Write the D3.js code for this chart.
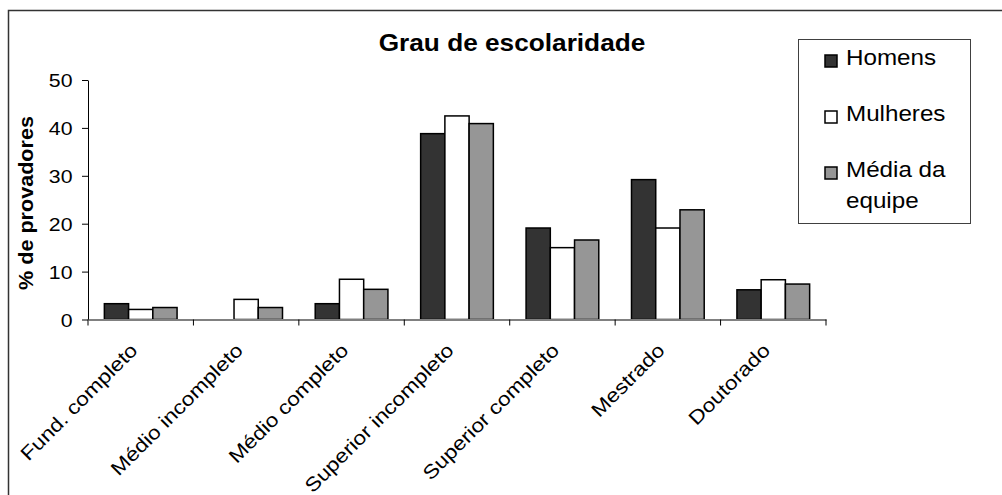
<!DOCTYPE html>
<html>
<head>
<meta charset="utf-8">
<script src="https://cdn.jsdelivr.net/npm/d3@7"></script>
<style>
  html, body { margin: 0; padding: 0; background: #fff; }
  svg { display: block; font-family: "Liberation Sans", Arial, sans-serif; }
</style>
</head>
<body>
<svg id="chart" width="1002" height="495"></svg>
<script>
// Education level of panel members (% of tasters), by group
const categories = ["Fund. completo", "Médio incompleto", "Médio completo", "Superior incompleto", "Superior completo", "Mestrado", "Doutorado"];
const seriesNames = ["Homens", "Mulheres", "Média da equipe"];
const homens   = [3.3, 0, 3.3, 38.8, 19.1, 29.2, 6.2];
const mulheres = [2.1, 4.2, 8.4, 42.5, 15.0, 19.1, 8.3];
const media    = [2.5, 2.5, 6.3, 40.9, 16.6, 22.9, 7.4];
const yTicks   = [0, 10, 20, 30, 40, 50];
const legendLines = [["Homens"], ["Mulheres"], ["Média da", "equipe"]];

const seriesValues = [homens, mulheres, media];
const fills = ["#333333", "#ffffff", "#969696"];

const svg = d3.select("#chart");

// outer frame
svg.append("rect")
  .attr("x", 8.5).attr("y", 10.5)
  .attr("width", 1100).attr("height", 600)
  .attr("fill", "none").attr("stroke", "#333").attr("stroke-width", 1.5);

const plot = { left: 88, right: 826, top: 80, bottom: 319.5 };

const x0 = d3.scaleBand().domain(categories)
  .range([plot.left, plot.right]).paddingInner(0).paddingOuter(0);
const x1 = d3.scaleBand().domain(seriesNames)
  .range([0, x0.bandwidth()]).paddingInner(0).paddingOuter(0.675);
const y = d3.scaleLinear().domain([0, 50]).range([plot.bottom, plot.top]);

// bars
const rows = categories.map((c, i) => seriesNames.map((s, k) => ({ cat: c, series: s, k, value: seriesValues[k][i] })));
svg.append("g").selectAll("g")
  .data(rows).join("g")
  .attr("transform", d => `translate(${x0(d[0].cat)},0)`)
  .selectAll("rect")
  .data(d => d.filter(v => v.value > 0)).join("rect")
  .attr("x", d => x1(d.series))
  .attr("y", d => y(d.value))
  .attr("width", x1.bandwidth())
  .attr("height", d => y(0) - y(d.value))
  .attr("fill", d => fills[d.k])
  .attr("stroke", "#000").attr("stroke-width", 1.5);

// y axis
const yAxis = svg.append("g")
  .attr("transform", `translate(${plot.left},0)`)
  .call(d3.axisLeft(y).tickValues(yTicks).tickSize(6).tickSizeOuter(0));
yAxis.select(".domain").attr("stroke", "#000").attr("stroke-width", 1);
yAxis.selectAll(".tick line").attr("stroke", "#000");
yAxis.selectAll(".tick text")
  .attr("font-size", 19).attr("fill", "#000")
  .attr("x", -15.5 / 1.12).attr("dy", "0.36em")
  .attr("transform", "scale(1.12,1)")
  .style("font-family", "'Liberation Sans', Arial, sans-serif");

// x axis: labels centred on categories, ticks on category boundaries
const xAxis = svg.append("g")
  .attr("transform", `translate(0,${plot.bottom})`)
  .call(d3.axisBottom(x0).tickSize(0).tickSizeOuter(0));
xAxis.select(".domain").attr("stroke", "#808080").attr("stroke-width", 2);
xAxis.selectAll(".tick text")
  .attr("font-size", 19.5).attr("fill", "#000")
  .attr("text-anchor", "end")
  .attr("y", 0).attr("dy", 0)
  .attr("transform", "translate(-2,32) rotate(-45) scale(1.16,1)")
  .style("font-family", "'Liberation Sans', Arial, sans-serif");
const bounds = categories.map(c => x0(c)).concat([x0.range()[1]]);
xAxis.append("g").selectAll("line")
  .data(bounds).join("line")
  .attr("x1", d => d).attr("x2", d => d)
  .attr("y1", 0).attr("y2", 6)
  .attr("stroke", "#000").attr("stroke-width", 1);

// title
svg.append("text")
  .attr("transform", "translate(512,51) scale(1.14,1)")
  .attr("text-anchor", "middle")
  .attr("font-size", 23).attr("font-weight", "bold")
  .text("Grau de escolaridade");

// y axis title
svg.append("text")
  .attr("transform", "translate(33,203) rotate(-90) scale(1.08,1)")
  .attr("text-anchor", "middle")
  .attr("font-size", 20).attr("font-weight", "bold")
  .text("% de provadores");

// legend
const legend = svg.append("g");
legend.append("rect")
  .attr("x", 798.5).attr("y", 39.5).attr("width", 172).attr("height", 184)
  .attr("fill", "#fff").attr("stroke", "#404040").attr("stroke-width", 1);
const baselines = [65, 121, 177];
const item = legend.selectAll("g.item")
  .data(seriesNames).join("g").attr("class", "item")
  .attr("transform", (d, i) => `translate(0,${baselines[i]})`);
item.append("rect")
  .attr("x", 825).attr("y", -10).attr("width", 12).attr("height", 12)
  .attr("fill", (d, i) => fills[i]).attr("stroke", "#000").attr("stroke-width", 1.5);
item.each(function(d, i) {
  d3.select(this).selectAll("text")
    .data(legendLines[i]).join("text")
    .attr("transform", (t, j) => `translate(846,${j * 31}) scale(1.1,1)`)
    .attr("font-size", 22)
    .text(t => t);
});
</script>
</body>
</html>
